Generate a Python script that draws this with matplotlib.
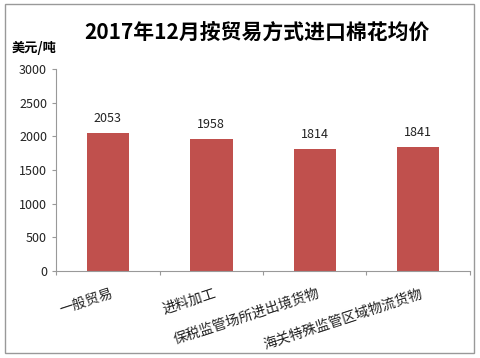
import matplotlib
matplotlib.use('Agg')
import matplotlib.pyplot as plt
from matplotlib.patches import Rectangle

plt.rcParams['font.family'] = ['Noto Sans CJK SC', 'DejaVu Sans']

# data
categories = ['一般贸易', '进料加工', '保税监管场所进出境货物', '海关特殊监管区域物流货物']
prices = [2053, 1958, 1814, 1841]
yticks = [0, 500, 1000, 1500, 2000, 2500, 3000]

fig = plt.figure(figsize=(4.8, 3.58), dpi=100)
ax = fig.add_axes([0.117, 0.243, 0.862, 0.564])

x = list(range(len(categories)))
ax.bar(x, prices, width=0.41, color='#c0504d')
for xi, v in zip(x, prices):
    ax.text(xi, v + 120, str(v), ha='center', va='bottom', fontsize=9, color='#222222')

ax.set_xlim(-0.5, len(categories) - 0.5)
ax.set_ylim(0, 3000)
ax.set_yticks(yticks)
ax.tick_params(axis='y', labelsize=9, length=3, color='#999999', colors='#222222')

# tick marks between the categories, labels at the centres
ax.set_xticks([i - 0.5 for i in range(len(categories) + 1)])
ax.set_xticklabels([])
ax.tick_params(axis='x', length=3, color='#999999')
for xi, c in zip(x, categories):
    ax.text(xi + 0.02, -230, c, rotation=18, ha='right', va='top',
            rotation_mode='anchor', fontsize=10, color='#222222')

for s in ['top', 'right']:
    ax.spines[s].set_visible(False)
ax.spines['left'].set_color('#999999')
ax.spines['bottom'].set_color('#999999')

fig.text(0.535, 0.91, '2017年12月按贸易方式进口棉花均价', ha='center', va='center',
         fontsize=15, fontweight='bold')
fig.text(0.025, 0.865, '美元/吨', ha='left', va='center', fontsize=9.5, fontweight='bold')

fig.patches.append(Rectangle((0.01, 0.015), 0.978, 0.975, transform=fig.transFigure,
                             fill=False, edgecolor='#999999', linewidth=1))

fig.savefig('out.png', dpi=100)
